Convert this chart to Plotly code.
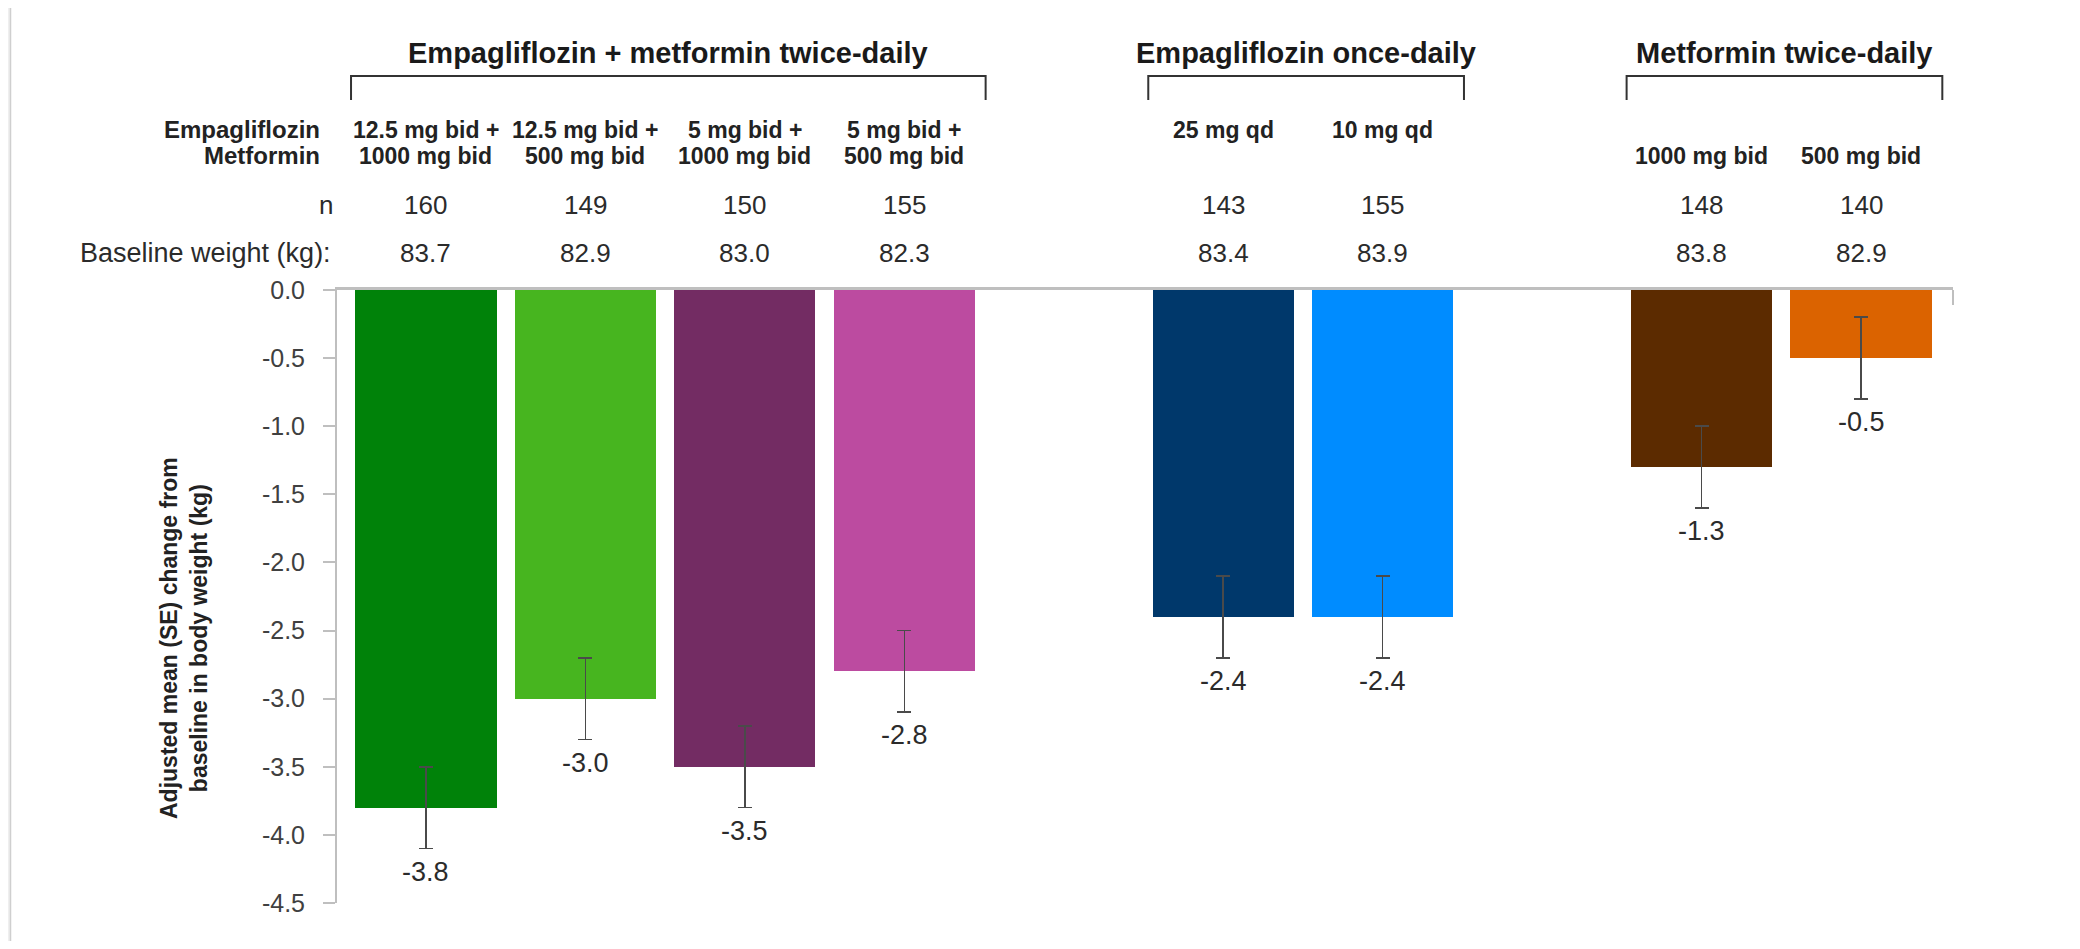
import plotly.graph_objects as go

# ---------------- data ----------------
group_names = ["Empagliflozin + metformin twice-daily", "Empagliflozin once-daily", "Metformin twice-daily"]
group_of_bar = [0, 0, 0, 0, 1, 1, 2, 2]
empa_dose = ["12.5 mg bid +", "12.5 mg bid +", "5 mg bid +", "5 mg bid +", "25 mg qd", "10 mg qd", "", ""]
met_dose = ["1000 mg bid", "500 mg bid", "1000 mg bid", "500 mg bid", "", "", "1000 mg bid", "500 mg bid"]
n_values = [160, 149, 150, 155, 143, 155, 148, 140]
baseline_weight = [83.7, 82.9, 83.0, 82.3, 83.4, 83.9, 83.8, 82.9]
change = [-3.8, -3.0, -3.5, -2.8, -2.4, -2.4, -1.3, -0.5]
se = [0.3, 0.3, 0.3, 0.3, 0.3, 0.3, 0.3, 0.3]
colors = ["#008209", "#47B51F", "#732C63", "#BC4BA0", "#00386B", "#008CFF", "#5C2B00", "#DB6300"]
y_ticks = [0.0, -0.5, -1.0, -1.5, -2.0, -2.5, -3.0, -3.5, -4.0, -4.5]
y_title = "Adjusted mean (SE) change from<br>baseline in body weight (kg)"

# positions: one slot per bar, one empty slot between groups
pos = []
p = 0
for i, g in enumerate(group_of_bar):
    if i > 0 and g != group_of_bar[i - 1]:
        p += 1
    pos.append(p)
    p += 1

FONT = "Liberation Sans, Arial, sans-serif"
OFF = 8                      # page body margin
W, H = 2080 - 2 * OFF, 949 - 2 * OFF
# plot area in page pixels
PL, PR, PT, PB = 337, 1953, 290, 903
L, R, T, B = PL - OFF, W - (PR - OFF), PT - OFF, H - (PB - OFF)
PH = PB - PT
PW = PR - PL


def py(ypage):
    return (PB - ypage) / PH


def px(xpage):
    return (xpage - PL) / PW


fig = go.Figure()
fig.add_trace(go.Bar(
    x=pos, y=change, width=0.885,
    marker=dict(color=colors, line=dict(width=0)),
    error_y=dict(type="data", array=se, visible=True, color="#4a4a4a", thickness=1.6, width=7),
    hoverinfo="y", showlegend=False,
))

ann = []
# value labels
for xi, v, s in zip(pos, change, se):
    ann.append(dict(x=xi, y=v - s, xref="x", yref="y", text=f"{v:.1f}", showarrow=False,
                    yanchor="middle", yshift=-23, font=dict(size=27, color="#2b2b2b", family=FONT)))
# dose / n / baseline rows
for xi, e, m, n, b in zip(pos, empa_dose, met_dose, n_values, baseline_weight):
    if e:
        ann.append(dict(x=xi, y=py(130), xref="x", yref="paper", text=f"<b>{e}</b>", showarrow=False,
                        yanchor="middle", font=dict(size=23, color="#222", family=FONT)))
    if m:
        ann.append(dict(x=xi, y=py(156), xref="x", yref="paper", text=f"<b>{m}</b>", showarrow=False,
                        yanchor="middle", font=dict(size=23, color="#222", family=FONT)))
    ann.append(dict(x=xi, y=py(205), xref="x", yref="paper", text=str(n), showarrow=False,
                    yanchor="middle", font=dict(size=26, color="#2b2b2b", family=FONT)))
    ann.append(dict(x=xi, y=py(253), xref="x", yref="paper", text=f"{b:.1f}", showarrow=False,
                    yanchor="middle", font=dict(size=26, color="#2b2b2b", family=FONT)))

# row labels
ann.append(dict(x=0, y=py(130), xref="paper", yref="paper", text="<b>Empagliflozin</b>", showarrow=False,
                xanchor="right", yanchor="middle", xshift=-15, font=dict(size=24, color="#222", family=FONT)))
ann.append(dict(x=0, y=py(156), xref="paper", yref="paper", text="<b>Metformin</b>", showarrow=False,
                xanchor="right", yanchor="middle", xshift=-15, font=dict(size=24, color="#222", family=FONT)))
ann.append(dict(x=0, y=py(205), xref="paper", yref="paper", text="n", showarrow=False,
                xanchor="right", yanchor="middle", xshift=-2, font=dict(size=26, color="#2b2b2b", family=FONT)))
ann.append(dict(x=0, y=py(253), xref="paper", yref="paper", text="Baseline weight (kg):", showarrow=False,
                xanchor="right", yanchor="middle", xshift=-4, font=dict(size=27, color="#2b2b2b", family=FONT)))

# y-axis title
ann.append(dict(x=0, y=py(638), xref="paper", yref="paper", text=f"<b>{y_title}</b>", showarrow=False,
                xanchor="center", yanchor="middle", xshift=-(PL - 184), textangle=-90,
                font=dict(size=23, color="#222", family=FONT)))

shapes = []
# background frame (screenshot border)
shapes.append(dict(type="rect", xref="paper", yref="paper", x0=px(10.5), x1=px(2095), y0=py(970), y1=py(6),
                   fillcolor="white", line=dict(color="#cfcfcf", width=1.5), layer="below"))
# group brackets and titles
for gi, name in enumerate(group_names):
    members = [pos[i] for i, g in enumerate(group_of_bar) if g == gi]
    x0, x1 = min(members) - 0.47, max(members) + 0.51
    shapes.append(dict(type="path", xref="x", yref="paper",
                       path=f"M {x0},{py(100)} L {x0},{py(76)} L {x1},{py(76)} L {x1},{py(100)}",
                       line=dict(color="#333", width=2)))
    ann.append(dict(x=(x0 + x1) / 2, y=py(53), xref="x", yref="paper", text=f"<b>{name}</b>", showarrow=False,
                    yanchor="middle", font=dict(size=29, color="#1a1a1a", family=FONT)))
# small tick at right end of zero line
shapes.append(dict(type="line", xref="paper", yref="paper", x0=1, x1=1, y0=1, y1=py(305),
                   line=dict(color="#bfbfbf", width=2)))

fig.update_layout(
    width=W, height=H,
    margin=dict(l=L, r=R, t=T, b=B, autoexpand=False),
    paper_bgcolor="#efefef", plot_bgcolor="rgba(0,0,0,0)",
    bargap=0,
    xaxis=dict(range=[-0.558, 9.577], showgrid=False, zeroline=False, showticklabels=False,
               ticks="", side="top", showline=True, linecolor="#bfbfbf", linewidth=2.5),
    yaxis=dict(range=[-4.5, 0], tickvals=y_ticks, ticktext=[f"{v:.1f}" for v in y_ticks],
               showgrid=False, zeroline=False, showline=True, linecolor="#bfbfbf", linewidth=2,
               ticks="outside", ticklen=12, tickcolor="#bfbfbf", tickwidth=2, ticklabelstandoff=13,
               tickfont=dict(size=25, color="#404040", family=FONT)),
    annotations=ann, shapes=shapes,
    font=dict(family=FONT),
)

fig.write_html("out.html")
